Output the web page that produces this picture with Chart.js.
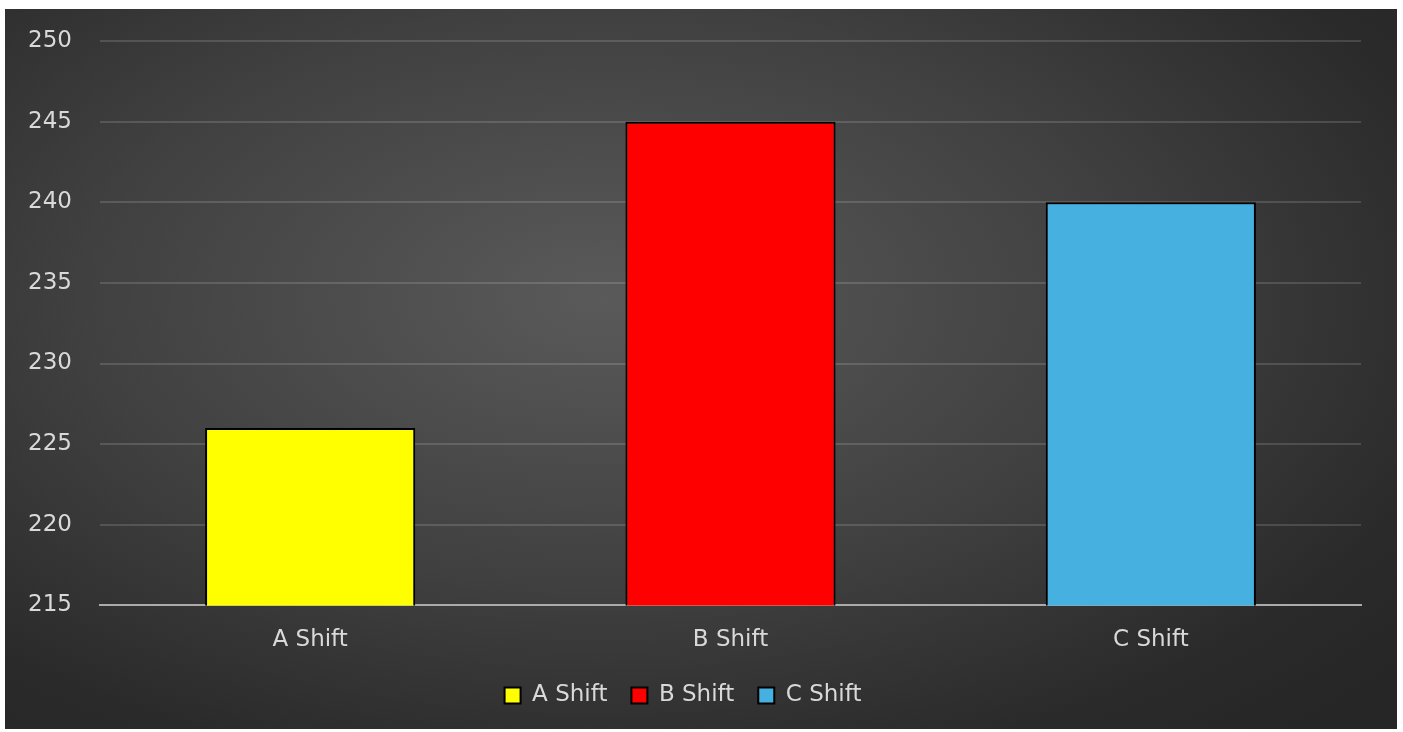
<!DOCTYPE html>
<html>
<head>
<meta charset="utf-8">
<script src="https://cdn.jsdelivr.net/npm/chart.js@4/dist/chart.umd.min.js"></script>
<style>
    html, body { margin: 0; padding: 0; background: #ffffff; }
    #chartContainer {
        position: absolute;
        left: 5px;
        top: 9px;
        width: 1392px;
        height: 720px;
        background: radial-gradient(ellipse 75% 80% at 43% 40%, #5a5a5a 0%, #404040 50%, #2a2a2a 85%, #262626 100%);
    }
</style>
</head>
<body>
<div id="chartContainer"><canvas id="chart"></canvas></div>
<script>
const categories = ['A Shift', 'B Shift', 'C Shift']
const shiftValues = [226, 245, 240]
const shiftColors = ['#ffff00', '#ff0000', '#46b0e0']
const yTicks = [215, 220, 225, 230, 235, 240, 245, 250]

window.onload = init

function init() {
    const textFont = { family: '"DejaVu Sans"', size: 23 }

    const datasets = categories.map((name, i) => ({
        label: name,
        data: categories.map((c, j) => j === i ? shiftValues[i] : null),
        backgroundColor: shiftColors[i],
        borderColor: '#000000',
        borderWidth: 2,
        categoryPercentage: 0.5,
        barPercentage: 1
    }))

    new Chart('chart', {
        type: 'bar',
        data: { labels: categories, datasets: datasets },
        options: {
            responsive: true,
            maintainAspectRatio: false,
            animation: false,
            grouped: false,
            layout: { padding: { top: 32, right: 36, bottom: 12, left: 0 } },
            plugins: {
                tooltip: { enabled: false },
                legend: {
                    position: 'bottom',
                    labels: {
                        color: '#d9d9d9',
                        font: textFont,
                        boxWidth: 16,
                        boxHeight: 16,
                        padding: 24
                    }
                }
            },
            scales: {
                x: {
                    grid: { display: false },
                    border: { display: true, color: '#ababab', width: 2 },
                    afterFit: axis => { axis.height -= 7 },
                    ticks: {
                        color: '#d9d9d9',
                        font: textFont,
                        padding: 13
                    }
                },
                y: {
                    min: yTicks[0],
                    max: yTicks[yTicks.length - 1],
                    afterBuildTicks: axis => { axis.ticks = yTicks.map(v => ({ value: v })) },
                    afterFit: axis => {
                        axis.width = 95
                        axis.paddingTop = 0
                        axis.paddingBottom = 0
                    },
                    border: { display: false },
                    grid: { color: 'rgba(255,255,255,0.14)', lineWidth: 2, drawTicks: false },
                    ticks: {
                        color: '#d9d9d9',
                        font: textFont,
                        padding: 28
                    }
                }
            }
        }
    })
}
</script>
</body>
</html>
